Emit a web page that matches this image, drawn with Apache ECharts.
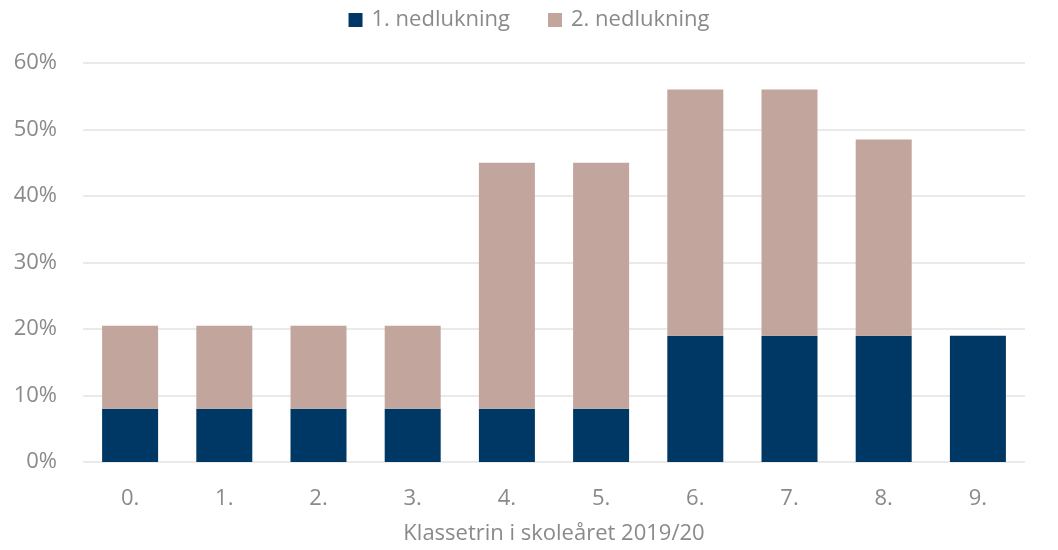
<!DOCTYPE html>
<html>
<head>
    <meta charset="utf-8">
    <title>Nedlukning</title>
    <script src="https://cdn.jsdelivr.net/npm/echarts@6/dist/echarts.min.js"></script>
    <style>
        html, body { margin: 0; padding: 0; background: #fff; }
    </style>
</head>
<body>
<div id="main" style="width: 1058px;height:550px;"></div>
<script type="text/javascript">
// data (percent)
var klassetrin = ['0.', '1.', '2.', '3.', '4.', '5.', '6.', '7.', '8.', '9.'];
var nedlukning1 = [8, 8, 8, 8, 8, 8, 19, 19, 19, 19];
var nedlukning2 = [12.5, 12.5, 12.5, 12.5, 37, 37, 37, 37, 29.5, 0];
var yTicks = [0, 10, 20, 30, 40, 50, 60];

var textColor = '#8a8a8a';
var fontSize = 22;
var myChart = echarts.init(document.getElementById('main'));

var option = {
    animation: false,
    textStyle: { fontFamily: 'Open Sans' },
    legend: {
        top: 4,
        left: 'center',
        itemWidth: 14,
        itemHeight: 14,
        itemGap: 38,
        icon: 'rect',
        textStyle: { color: textColor, fontSize: fontSize, fontFamily: 'Open Sans', padding: [0, 0, 0, 4] },
        data: ['1. nedlukning', '2. nedlukning']
    },
    grid: { left: 83, right: 33, top: 63, bottom: 88, containLabel: false },
    xAxis: {
        type: 'category',
        data: klassetrin,
        name: 'Klassetrin i skoleåret 2019/20',
        nameLocation: 'middle',
        nameGap: 61,
        nameTextStyle: { color: textColor, fontSize: fontSize },
        axisLine: { show: false },
        axisTick: { show: false },
        axisLabel: { color: textColor, fontSize: fontSize, margin: 26 }
    },
    yAxis: {
        type: 'value',
        min: yTicks[0],
        max: yTicks[yTicks.length - 1],
        interval: 10,
        axisLine: { show: false },
        axisTick: { show: false },
        axisLabel: { color: textColor, fontSize: fontSize, margin: 26, formatter: '{value}%' },
        splitLine: { lineStyle: { color: '#e3e3e3', width: 1.5 } }
    },
    series: [{
        name: '1. nedlukning',
        type: 'bar',
        stack: 'total',
        barWidth: 56,
        itemStyle: { color: '#003865' },
        data: nedlukning1
    }, {
        name: '2. nedlukning',
        type: 'bar',
        stack: 'total',
        barWidth: 56,
        itemStyle: { color: '#c2a59c' },
        data: nedlukning2
    }]
};
myChart.setOption(option);
</script>
</body>
</html>
